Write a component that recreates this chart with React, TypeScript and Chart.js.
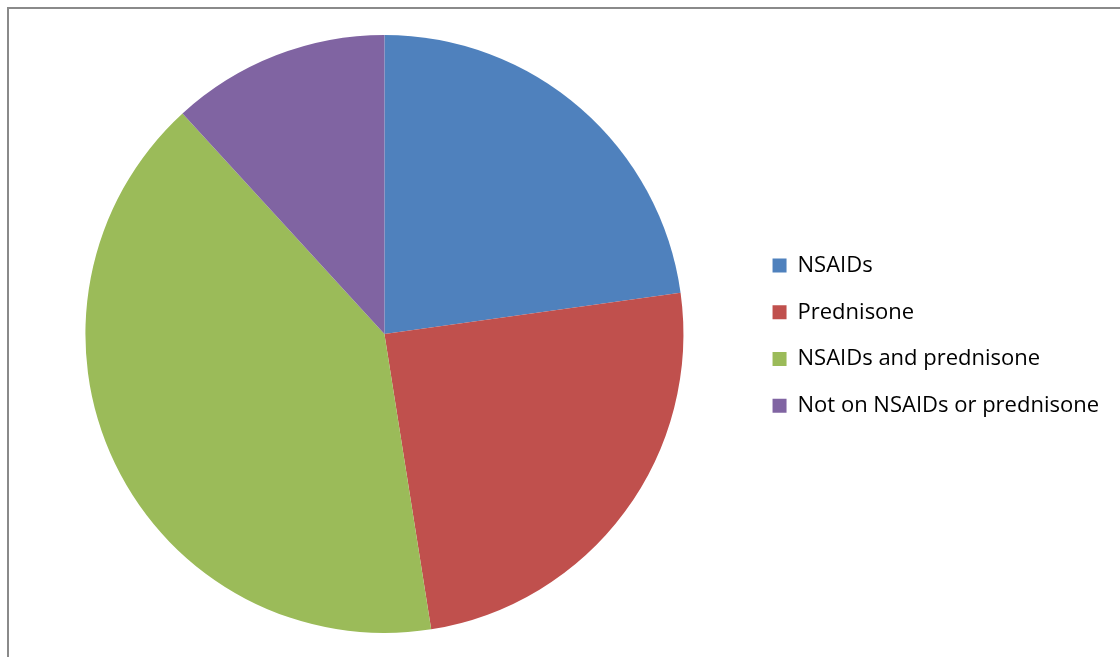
import React, { useEffect, useRef } from "react";
import { Chart, registerables } from "chart.js";

Chart.register(...registerables);

const categories = ["NSAIDs", "Prednisone", "NSAIDs and prednisone", "Not on NSAIDs or prednisone"];
const values = [22.8, 24.7, 40.7, 11.8];
const colors = ["#4F81BD", "#C0504D", "#9BBB59", "#8064A2"];

export default function App() {
  const ref = useRef<HTMLCanvasElement | null>(null);
  useEffect(() => {
    if (!ref.current) return;
    const chart = new Chart(ref.current, {
      type: "pie",
      data: {
        labels: categories,
        datasets: [
          {
            data: values,
            backgroundColor: colors,
            borderWidth: 0,
          },
        ],
      },
      options: {
        animation: false,
        responsive: true,
        maintainAspectRatio: false,
        layout: { padding: { left: 21, right: 11, top: 35, bottom: 24 } },
        plugins: {
          tooltip: { enabled: false },
          legend: {
            position: "right",
            align: "center",
            title: {
              display: true,
              text: "",
              font: { size: 1 },
              padding: { top: 2, bottom: 0 },
            },
            labels: {
              boxWidth: 14,
              boxHeight: 14,
              padding: 24.7,
              color: "#000",
              font: { family: "'Open Sans', sans-serif", size: 22 },
            },
          },
        },
      },
    });
    return () => chart.destroy();
  }, []);
  return (
    <div style={{ position: "absolute", left: 0, top: 0, width: 1120, height: 657, background: "#fff", overflow: "hidden" }}>
      <div
        style={{
          position: "absolute",
          left: 7,
          top: 7,
          width: 1200,
          height: 700,
          borderTop: "2px solid #8a8a8a",
          borderLeft: "2px solid #8a8a8a",
          boxSizing: "border-box",
        }}
      />
      <div style={{ position: "absolute", left: 0, top: 0, width: 1120, height: 657 }}>
        <canvas ref={ref} />
      </div>
    </div>
  );
}
